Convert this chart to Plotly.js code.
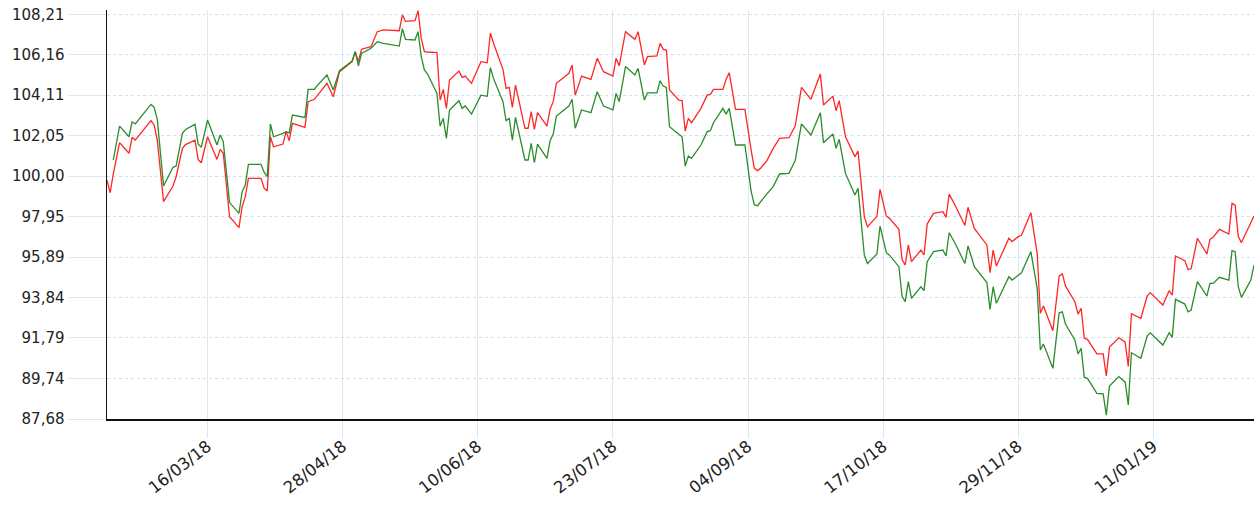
<!DOCTYPE html>
<html>
<head>
<meta charset="utf-8">
<script src="https://cdn.plot.ly/plotly-3.0.1.min.js"></script>
<style>html,body{margin:0;padding:0;background:#fff;}#chart{width:1254px;height:506px;}</style>
</head>
<body>
<div id="chart"></div>
<script>
const dates = [
"2018-02-12","2018-02-13","2018-02-14","2018-02-16","2018-02-19","2018-02-20","2018-02-21","2018-02-26","2018-02-27","2018-02-28",
"2018-03-02","2018-03-05","2018-03-06","2018-03-08","2018-03-09","2018-03-12","2018-03-13","2018-03-14","2018-03-16","2018-03-19",
"2018-03-20","2018-03-21","2018-03-23","2018-03-26","2018-03-27","2018-03-28","2018-03-29","2018-04-02","2018-04-03","2018-04-04",
"2018-04-05","2018-04-06","2018-04-09","2018-04-10","2018-04-11","2018-04-12","2018-04-16","2018-04-17","2018-04-19","2018-04-20",
"2018-04-23","2018-04-25","2018-04-27","2018-05-01","2018-05-02","2018-05-03","2018-05-04","2018-05-07","2018-05-09","2018-05-11",
"2018-05-16","2018-05-17","2018-05-18","2018-05-21","2018-05-22","2018-05-23","2018-05-24","2018-05-25","2018-05-28","2018-05-29",
"2018-05-30","2018-05-31","2018-06-01","2018-06-04","2018-06-05","2018-06-06","2018-06-08","2018-06-11","2018-06-13","2018-06-14",
"2018-06-15","2018-06-18","2018-06-19","2018-06-20","2018-06-21","2018-06-22","2018-06-25","2018-06-26","2018-06-27","2018-06-28",
"2018-06-29","2018-07-02","2018-07-03","2018-07-04","2018-07-05","2018-07-09","2018-07-10","2018-07-11","2018-07-13","2018-07-16",
"2018-07-18","2018-07-20","2018-07-23","2018-07-24","2018-07-25","2018-07-27","2018-07-30","2018-07-31","2018-08-02","2018-08-03",
"2018-08-06","2018-08-07","2018-08-08","2018-08-09","2018-08-10","2018-08-13","2018-08-14","2018-08-15","2018-08-16","2018-08-17",
"2018-08-20","2018-08-22","2018-08-23","2018-08-24","2018-08-27","2018-08-28","2018-08-29","2018-08-31","2018-09-03","2018-09-05",
"2018-09-06","2018-09-07","2018-09-08","2018-09-10","2018-09-12","2018-09-14","2018-09-17","2018-09-19","2018-09-21","2018-09-24",
"2018-09-27","2018-09-28","2018-10-01","2018-10-02","2018-10-03","2018-10-05","2018-10-08","2018-10-09","2018-10-11","2018-10-12",
"2018-10-15","2018-10-16","2018-10-18","2018-10-19","2018-10-22","2018-10-23","2018-10-24","2018-10-25","2018-10-26","2018-10-29",
"2018-10-30","2018-10-31","2018-11-02","2018-11-05","2018-11-06","2018-11-07","2018-11-09","2018-11-12","2018-11-13","2018-11-15",
"2018-11-19","2018-11-20","2018-11-21","2018-11-22","2018-11-26","2018-11-27","2018-11-28","2018-11-29","2018-11-30","2018-12-03",
"2018-12-04","2018-12-05","2018-12-06","2018-12-07","2018-12-10","2018-12-12","2018-12-13","2018-12-14","2018-12-17","2018-12-18",
"2018-12-19","2018-12-20","2018-12-21","2018-12-24","2018-12-26","2018-12-27","2018-12-28","2018-12-31","2019-01-02","2019-01-03",
"2019-01-04","2019-01-07","2019-01-09","2019-01-10","2019-01-14","2019-01-16","2019-01-17","2019-01-18","2019-01-21","2019-01-22",
"2019-01-23","2019-01-25","2019-01-28","2019-01-29","2019-01-30","2019-02-01","2019-02-04","2019-02-05","2019-02-06","2019-02-07",
"2019-02-08","2019-02-11","2019-02-12"
];

const redValues = [
99.80,99.16,100.10,101.70,101.16,101.97,101.83,102.82,102.60,101.83,
98.71,99.50,99.97,101.41,101.60,101.83,100.85,100.68,102.00,100.85,
101.36,101.16,97.94,97.39,98.45,98.96,99.89,99.89,99.39,99.25,
102.00,101.49,101.63,102.26,101.80,102.68,102.48,103.78,103.90,104.10,
104.71,104.03,105.30,105.81,106.32,105.81,106.44,106.57,107.33,107.42,
107.38,108.18,107.85,107.89,108.40,106.99,106.32,106.30,106.27,103.86,
104.40,103.44,104.88,105.33,105.01,105.08,104.71,105.81,105.75,107.25,
106.74,105.42,104.45,104.50,103.49,104.62,102.43,102.43,103.27,102.37,
103.22,102.54,103.40,103.78,104.71,105.22,105.64,104.11,105.08,104.91,
105.98,105.30,105.08,105.98,105.59,107.33,106.94,107.33,105.64,106.06,
106.10,106.74,106.43,106.40,104.37,103.86,103.83,102.29,102.93,102.71,
103.44,104.11,104.15,104.40,104.40,104.91,105.25,103.39,103.39,101.30,
100.40,100.28,100.40,100.79,101.41,101.92,101.95,102.54,104.50,103.90,
105.18,103.61,104.06,103.32,103.83,102.00,100.99,101.27,97.95,97.44,
97.95,99.33,97.97,97.86,97.30,95.78,95.49,96.51,95.66,96.25,
96.00,97.57,98.11,98.20,97.91,99.09,98.49,97.50,98.42,97.35,
96.51,95.10,96.25,95.44,96.85,96.68,96.80,96.93,97.00,98.15,
97.10,96.08,93.04,93.41,92.16,94.93,95.04,94.43,93.63,93.00,
93.29,91.77,91.72,90.98,90.98,89.86,91.33,91.80,91.58,90.35,
93.02,92.79,93.92,94.09,93.46,94.19,93.97,95.95,95.71,95.27,
95.30,96.85,96.05,96.79,96.90,97.30,97.06,98.62,98.53,96.93,
96.63,97.61,97.98
];

const greenValues = [
null,null,100.82,102.54,102.00,102.76,102.65,103.64,103.49,102.88,
99.50,100.45,100.51,102.17,102.37,102.63,101.63,101.46,102.85,101.58,
102.09,101.75,98.66,98.11,99.21,99.55,100.60,100.60,100.20,99.97,
102.65,102.00,102.17,102.25,102.20,103.10,102.98,104.40,104.40,104.62,
105.13,104.37,105.35,105.84,106.32,105.59,106.23,106.49,106.82,106.74,
106.60,107.48,106.94,106.91,107.33,106.06,105.39,105.18,104.20,102.54,
102.93,101.92,103.36,103.83,103.44,103.56,103.15,104.11,104.05,105.51,
104.96,103.78,102.82,102.93,101.83,102.98,100.82,100.82,101.67,100.68,
101.63,100.90,101.80,102.14,103.05,103.56,103.90,102.43,103.36,103.22,
104.28,103.56,103.36,104.20,103.78,105.56,105.13,105.47,103.86,104.23,
104.23,104.84,104.57,104.50,102.51,102.14,102.00,100.51,101.02,100.90,
101.58,102.26,102.31,102.71,103.44,103.15,103.44,101.58,101.58,99.21,
98.54,98.50,98.71,99.10,99.47,100.11,100.14,100.79,102.65,102.09,
103.22,101.70,102.14,101.41,101.87,100.14,99.04,99.38,95.99,95.57,
96.05,97.47,96.12,95.99,95.41,93.92,93.63,94.65,93.80,94.39,
94.19,95.66,96.17,96.25,95.95,97.13,96.56,95.57,96.46,95.41,
94.60,93.24,94.39,93.55,94.90,94.73,94.85,94.98,95.10,96.17,
95.24,94.31,91.18,91.48,90.25,93.07,93.12,92.50,91.69,90.98,
91.26,89.79,89.74,88.98,88.95,87.88,89.35,89.83,89.55,88.39,
91.04,90.76,91.89,92.05,91.43,92.06,91.82,93.75,93.51,93.12,
93.21,94.65,93.92,94.56,94.56,94.87,94.73,96.22,96.17,94.39,
93.85,94.73,95.49
];

const xTickVals = ["2018-03-16","2018-04-28","2018-06-10","2018-07-23","2018-09-04","2018-10-17","2018-11-29","2019-01-11"];
const xTickText = ["16/03/18","28/04/18","10/06/18","23/07/18","04/09/18","17/10/18","29/11/18","11/01/19"];
const yTickVals = [87.68,89.74,91.79,93.84,95.89,97.95,100.00,102.05,104.11,106.16,108.21];
const yTickText = ["87,68","89,74","91,79","93,84","95,89","97,95","100,00","102,05","104,11","106,16","108,21"];

const traces = [
  {x: dates, y: redValues, type: "scatter", mode: "lines", name: "Serie 1",
   line: {color: "#ff2626", width: 1.3}, connectgaps: false, hoverinfo: "skip"},
  {x: dates, y: greenValues, type: "scatter", mode: "lines", name: "Serie 2",
   line: {color: "#2a8c2a", width: 1.3}, connectgaps: false, hoverinfo: "skip"}
];

const fontFamily = "DejaVu Sans, Verdana, sans-serif";
const layout = {
  width: 1254, height: 506,
  margin: {l: 107, r: 0, t: 10, b: 87, pad: 0},
  paper_bgcolor: "#ffffff", plot_bgcolor: "#ffffff",
  showlegend: false,
  hovermode: false,
  xaxis: {
    type: "date",
    range: ["2018-02-12", "2019-02-12"],
    tickmode: "array", tickvals: xTickVals, ticktext: xTickText,
    tickangle: -38,
    showgrid: true, gridcolor: "#dde8f5", gridwidth: 1,
    ticks: "outside", ticklen: 17, tickcolor: "#dde8f5", tickwidth: 1,
    ticklabelstandoff: -7,
    showline: true, linecolor: "#111111", linewidth: 1.5,
    zeroline: false,
    tickfont: {family: fontFamily, size: 16.5, color: "#222222"}
  },
  yaxis: {
    range: [87.68, 108.43],
    tickmode: "array", tickvals: yTickVals, ticktext: yTickText,
    showgrid: true, gridcolor: "#cfdff2", gridwidth: 1, griddash: "dot",
    ticks: "outside", ticklen: 38, tickcolor: "#dde8f5", tickwidth: 1,
    showline: true, linecolor: "#111111", linewidth: 1.5,
    zeroline: false,
    tickfont: {family: fontFamily, size: 15, color: "#222222"}
  }
};

Plotly.newPlot("chart", traces, layout, {staticPlot: true, displayModeBar: false});
</script>
</body>
</html>
